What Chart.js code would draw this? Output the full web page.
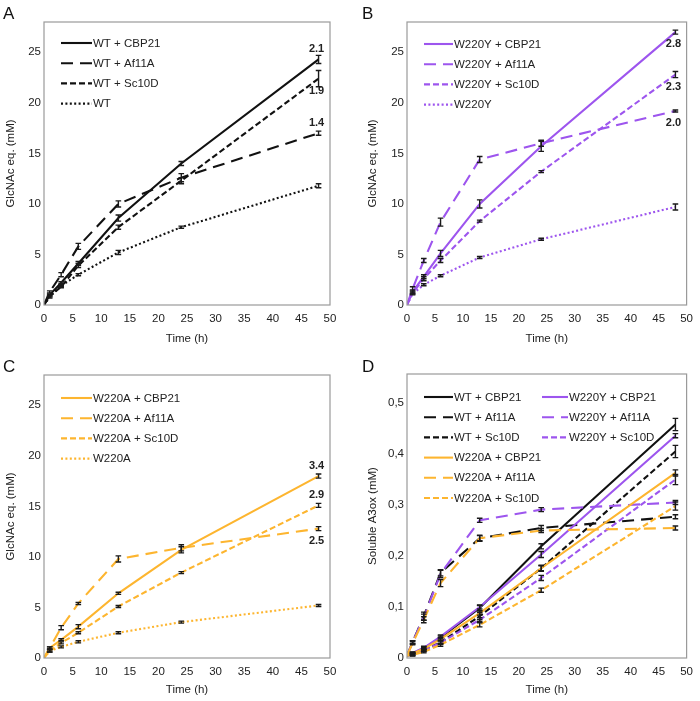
<!DOCTYPE html>
<html>
<head>
<meta charset="utf-8">
<script src="https://cdn.jsdelivr.net/npm/chart.js@4.4.1/dist/chart.umd.min.js"></script>
<style>
  html, body { margin: 0; padding: 0; background: #fff; }
  #wrap { position: relative; width: 700px; height: 701px; overflow: hidden; font-family: "Liberation Sans", Arial, sans-serif; }
  canvas { position: absolute; }
  .lt { position: absolute; font-size: 17px; line-height: 17px; color: #111; }
</style>
</head>
<body>
<div id="wrap">
  <canvas id="ca" width="350" height="350" style="left:0;top:0"></canvas>
  <canvas id="cb" width="350" height="350" style="left:350px;top:0"></canvas>
  <canvas id="cc" width="350" height="351" style="left:0;top:350px"></canvas>
  <canvas id="cd" width="350" height="351" style="left:350px;top:350px"></canvas>
  <div class="lt" style="left:3px;top:5px">A</div>
  <div class="lt" style="left:362px;top:5px">B</div>
  <div class="lt" style="left:3px;top:358px">C</div>
  <div class="lt" style="left:362px;top:358px">D</div>
</div>
<script>
/* ── Données (temps en h) ── */
const TIME    = [0, 1, 3, 6, 13, 24, 48];
const X_TICKS = [0, 5, 10, 15, 20, 25, 30, 35, 40, 45, 50];
const Y_TICKS = [0, 5, 10, 15, 20, 25];
const D_TICKS = [0, 0.1, 0.2, 0.3, 0.4, 0.5];

/* A : WT */
const A_CBP21 = [0, 1.0, 2.2, 4.1, 8.6, 14.0, 24.3];
const A_AF11A = [0, 1.3, 3.0, 5.8, 10.0, 12.6, 17.0];
const A_SC10D = [0, 0.9, 1.8, 3.9, 7.7, 12.3, 22.4];
const A_WT    = [0, 0.8, 1.9, 3.0, 5.2, 7.7, 11.8];
const A_CBP21_E = [0, 0.1, 0.1, 0.2, 0.3, 0.2, 0.4];
const A_AF11A_E = [0, 0.1, 0.2, 0.3, 0.3, 0.4, 0.2];
const A_SC10D_E = [0, 0.1, 0.1, 0.2, 0.2, 0.3, 0.8];
const A_WT_E    = [0, 0.1, 0.1, 0.1, 0.2, 0.1, 0.2];

/* B : W220Y */
const B_CBP21 = [0, 1.3, 2.8, 5.1, 10.0, 15.7, 27.0];
const B_AF11A = [0, 1.6, 4.4, 8.2, 14.4, 16.0, 19.2];
const B_SC10D = [0, 1.2, 2.6, 4.4, 8.3, 13.2, 22.8];
const B_W220Y = [0, 1.1, 2.0, 2.9, 4.7, 6.5, 9.7];
const B_CBP21_E = [0, 0.2, 0.2, 0.3, 0.4, 0.5, 0.2];
const B_AF11A_E = [0, 0.2, 0.2, 0.4, 0.3, 0.3, 0.1];
const B_SC10D_E = [0, 0.1, 0.2, 0.2, 0.1, 0.1, 0.3];
const B_W220Y_E = [0, 0.1, 0.1, 0.1, 0.1, 0.1, 0.3];

/* C : W220A */
const C_CBP21 = [0, 1.0, 1.8, 3.1, 6.4, 10.7, 18.0];
const C_AF11A = [0, 1.0, 3.0, 5.4, 9.8, 10.9, 12.8];
const C_SC10D = [0, 0.7, 1.5, 2.5, 5.1, 8.45, 15.1];
const C_W220A = [0, 0.7, 1.1, 1.6, 2.5, 3.55, 5.2];
const C_CBP21_E = [0, 0.1, 0.1, 0.2, 0.1, 0.3, 0.2];
const C_AF11A_E = [0, 0.1, 0.2, 0.1, 0.3, 0.3, 0.2];
const C_SC10D_E = [0, 0.1, 0.1, 0.1, 0.1, 0.1, 0.2];
const C_W220A_E = [0, 0.1, 0.1, 0.1, 0.1, 0.1, 0.1];

/* D : A3ox soluble */
const D_WT_CBP21   = [0.005, 0.009, 0.019, 0.040, 0.098, 0.219, 0.458];
const D_WT_AF11A   = [0.005, 0.031, 0.082, 0.167, 0.235, 0.255, 0.277];
const D_WT_SC10D   = [0.005, 0.007, 0.015, 0.031, 0.082, 0.176, 0.405];
const D_Y_CBP21    = [0.005, 0.010, 0.020, 0.042, 0.100, 0.203, 0.436];
const D_Y_AF11A    = [0.005, 0.031, 0.080, 0.165, 0.270, 0.291, 0.305];
const D_Y_SC10D    = [0.005, 0.007, 0.015, 0.030, 0.075, 0.157, 0.350];
const D_A_CBP21    = [0.005, 0.009, 0.018, 0.037, 0.088, 0.176, 0.363];
const D_A_AF11A    = [0.005, 0.029, 0.075, 0.147, 0.235, 0.250, 0.255];
const D_A_SC10D    = [0.005, 0.006, 0.012, 0.026, 0.065, 0.133, 0.298];
const D_WT_CBP21_E = [0, 0.002, 0.003, 0.003, 0.005, 0.005, 0.012];
const D_WT_AF11A_E = [0, 0.003, 0.008, 0.006, 0.006, 0.005, 0.004];
const D_WT_SC10D_E = [0, 0.002, 0.003, 0.003, 0.007, 0.005, 0.012];
const D_Y_CBP21_E  = [0, 0.002, 0.003, 0.003, 0.004, 0.006, 0.004];
const D_Y_AF11A_E  = [0, 0.003, 0.006, 0.007, 0.004, 0.004, 0.004];
const D_Y_SC10D_E  = [0, 0.002, 0.002, 0.003, 0.004, 0.005, 0.010];
const D_A_CBP21_E  = [0, 0.002, 0.002, 0.003, 0.004, 0.006, 0.006];
const D_A_AF11A_E  = [0, 0.003, 0.006, 0.007, 0.005, 0.004, 0.004];
const D_A_SC10D_E  = [0, 0.002, 0.002, 0.003, 0.004, 0.004, 0.008];

const BLACK  = '#111111';
const PURPLE = '#9D55EE';
const ORANGE = '#FDB52F';
const SOLID = [], LONG = [12, 7], SHORT = [6, 3], DOT = [2, 2.4];
const FONT = '"Liberation Sans", Arial, sans-serif';
const TXT  = '#222';

/* ── Plugins : cadre, barres d'erreur, légende, annotations ── */
const framePlugin = {
  id: 'frame',
  afterDraw(c) {
    const a = c.chartArea, x = c.ctx;
    x.save(); x.strokeStyle = '#9a9a9a'; x.lineWidth = 1.2;
    x.strokeRect(a.left, a.top, a.right - a.left, a.bottom - a.top);
    x.restore();
  }
};

const errPlugin = {
  id: 'errbars',
  afterDatasetsDraw(c) {
    const x = c.ctx, xs = c.scales.x, ys = c.scales.y;
    x.save(); x.strokeStyle = '#1a1a1a'; x.lineWidth = 1.4; x.setLineDash([]);
    c.data.datasets.forEach(ds => {
      ds.err.forEach((e, i) => {
        if (!e) return;
        const px = xs.getPixelForValue(TIME[i]);
        const y1 = ys.getPixelForValue(ds.vals[i] + e), y2 = ys.getPixelForValue(ds.vals[i] - e);
        x.beginPath();
        x.moveTo(px, y1); x.lineTo(px, y2);
        x.moveTo(px - 2.8, y1); x.lineTo(px + 2.8, y1);
        x.moveTo(px - 2.8, y2); x.lineTo(px + 2.8, y2);
        x.stroke();
      });
    });
    x.restore();
  }
};

const legendPlugin = {
  id: 'leg',
  afterDraw(c) {
    const o = c.options.plugins.leg, a = c.chartArea, x = c.ctx;
    x.save();
    x.font = '11.5px ' + FONT; x.textBaseline = 'middle'; x.fillStyle = TXT;
    c.data.datasets.forEach((ds, i) => {
      const [col, row] = o.slots[i];
      const x0 = a.left + o.colX[col], len = o.lineLen[col];
      const y = a.top + o.top + row * 20.2;
      x.strokeStyle = ds.borderColor; x.lineWidth = ds.borderWidth;
      x.setLineDash(ds.borderDash);
      x.beginPath(); x.moveTo(x0, y); x.lineTo(x0 + len, y); x.stroke();
      x.setLineDash([]);
      x.fillText(ds.label, x0 + len + 1, y + 0.5);
    });
    x.restore();
  }
};

const notePlugin = {
  id: 'notes',
  afterDraw(c) {
    const x = c.ctx, xs = c.scales.x, ys = c.scales.y;
    x.save();
    x.font = 'bold 11px ' + FONT; x.textAlign = 'center'; x.textBaseline = 'middle'; x.fillStyle = TXT;
    c.data.datasets.forEach(ds => {
      if (!ds.note) return;
      const n = TIME.length - 1;
      const px = xs.getPixelForValue(TIME[n]) - 2;
      const py = ys.getPixelForValue(ds.vals[n]) + (ds.noteSide < 0 ? -10 : 12);
      x.fillText(ds.note, px, py);
    });
    x.restore();
  }
};

function ser(label, vals, err, color, dash, note, noteSide) {
  return {
    label, vals, err, note, noteSide,
    data: TIME.map((t, i) => ({ x: t, y: vals[i] })),
    borderColor: color, borderDash: dash, borderWidth: 2.1,
    pointRadius: 0, tension: 0, fill: false,
  };
}

function panel(id, o) {
  const cv = document.getElementById(id);
  const W = cv.width, H = cv.height;
  const tick = { color: TXT, font: { family: FONT, size: 11.5 } };
  new Chart(cv, {
    type: 'line',
    data: { datasets: o.series },
    options: {
      responsive: false, animation: false,
      layout: { padding: { top: o.area.top, right: W - o.area.right, left: 0, bottom: 0 } },
      plugins: { legend: { display: false }, tooltip: { enabled: false },
                 leg: { slots: o.slots, colX: o.colX, lineLen: o.lineLen, top: o.legTop } },
      scales: {
        x: {
          type: 'linear', min: 0, max: 50,
          grid: { display: false, drawTicks: false }, border: { display: false },
          ticks: { ...tick, padding: 7, maxRotation: 0 },
          title: { display: true, text: 'Time (h)', color: TXT, font: { family: FONT, size: 11.5 }, padding: { top: 4, bottom: 4 } },
          afterBuildTicks: s => { s.ticks = X_TICKS.map(v => ({ value: v })); },
          afterFit: s => { s.height = H - o.area.bottom; },
        },
        y: {
          type: 'linear', min: 0, max: o.yMax,
          grid: { display: false, drawTicks: false }, border: { display: false },
          ticks: { ...tick, padding: 3, callback: o.fmt },
          title: { display: true, text: o.yTitle, color: TXT, font: { family: FONT, size: 11.5 }, padding: { top: o.titlePad, bottom: 4 } },
          afterBuildTicks: s => { s.ticks = o.yTicks.map(v => ({ value: v })); },
          afterFit: s => { s.width = o.area.left; },
        },
      },
    },
    plugins: [framePlugin, errPlugin, legendPlugin, notePlugin],
  });
}

const fmtInt = v => String(v);
const fmtComma = v => v === 0 ? '0' : v.toFixed(1).replace('.', ',');

panel('ca', {
  area: { left: 44, top: 22, right: 330, bottom: 305 },
  yMax: 28, yTicks: Y_TICKS, fmt: fmtInt, yTitle: 'GlcNAc eq. (mM)', titlePad: 4,
  slots: [[0, 0], [0, 1], [0, 2], [0, 3]], colX: [17], lineLen: [31], legTop: 21,
  series: [
    ser('WT + CBP21', A_CBP21, A_CBP21_E, BLACK, SOLID, '2.1', -1),
    ser('WT + Af11A', A_AF11A, A_AF11A_E, BLACK, LONG, '1.4', -1),
    ser('WT + Sc10D', A_SC10D, A_SC10D_E, BLACK, SHORT, '1.9', 1),
    ser('WT', A_WT, A_WT_E, BLACK, DOT, null, 0),
  ],
});

panel('cb', {
  area: { left: 57, top: 22, right: 340, bottom: 305 },
  yMax: 28, yTicks: Y_TICKS, fmt: fmtInt, yTitle: 'GlcNAc eq. (mM)', titlePad: 16,
  slots: [[0, 0], [0, 1], [0, 2], [0, 3]], colX: [17], lineLen: [29], legTop: 22,
  series: [
    ser('W220Y + CBP21', B_CBP21, B_CBP21_E, PURPLE, SOLID, '2.8', 1),
    ser('W220Y + Af11A', B_AF11A, B_AF11A_E, PURPLE, LONG, '2.0', 1),
    ser('W220Y + Sc10D', B_SC10D, B_SC10D_E, PURPLE, SHORT, '2.3', 1),
    ser('W220Y', B_W220Y, B_W220Y_E, PURPLE, DOT, null, 0),
  ],
});

panel('cc', {
  area: { left: 44, top: 25, right: 330, bottom: 308 },
  yMax: 28, yTicks: Y_TICKS, fmt: fmtInt, yTitle: 'GlcNAc eq. (mM)', titlePad: 4,
  slots: [[0, 0], [0, 1], [0, 2], [0, 3]], colX: [17], lineLen: [31], legTop: 23,
  series: [
    ser('W220A + CBP21', C_CBP21, C_CBP21_E, ORANGE, SOLID, '3.4', -1),
    ser('W220A + Af11A', C_AF11A, C_AF11A_E, ORANGE, LONG, '2.5', 1),
    ser('W220A + Sc10D', C_SC10D, C_SC10D_E, ORANGE, SHORT, '2.9', -1),
    ser('W220A', C_W220A, C_W220A_E, ORANGE, DOT, null, 0),
  ],
});

panel('cd', {
  area: { left: 57, top: 24, right: 340, bottom: 308 },
  yMax: 0.557, yTicks: D_TICKS, fmt: fmtComma, yTitle: 'Soluble A3ox (mM)', titlePad: 16,
  slots: [[0, 3], [0, 4], [0, 5], [1, 0], [1, 1], [1, 2], [0, 0], [0, 1], [0, 2]],
  colX: [17, 135], lineLen: [29, 26], legTop: 23,
  series: [
    ser('W220A + CBP21', D_A_CBP21, D_A_CBP21_E, ORANGE, SOLID, null, 0),
    ser('W220A + Af11A', D_A_AF11A, D_A_AF11A_E, ORANGE, LONG, null, 0),
    ser('W220A + Sc10D', D_A_SC10D, D_A_SC10D_E, ORANGE, SHORT, null, 0),
    ser('W220Y + CBP21', D_Y_CBP21, D_Y_CBP21_E, PURPLE, SOLID, null, 0),
    ser('W220Y + Af11A', D_Y_AF11A, D_Y_AF11A_E, PURPLE, LONG, null, 0),
    ser('W220Y + Sc10D', D_Y_SC10D, D_Y_SC10D_E, PURPLE, SHORT, null, 0),
    ser('WT + CBP21', D_WT_CBP21, D_WT_CBP21_E, BLACK, SOLID, null, 0),
    ser('WT + Af11A', D_WT_AF11A, D_WT_AF11A_E, BLACK, LONG, null, 0),
    ser('WT + Sc10D', D_WT_SC10D, D_WT_SC10D_E, BLACK, SHORT, null, 0),
  ],
});
</script>
</body>
</html>
